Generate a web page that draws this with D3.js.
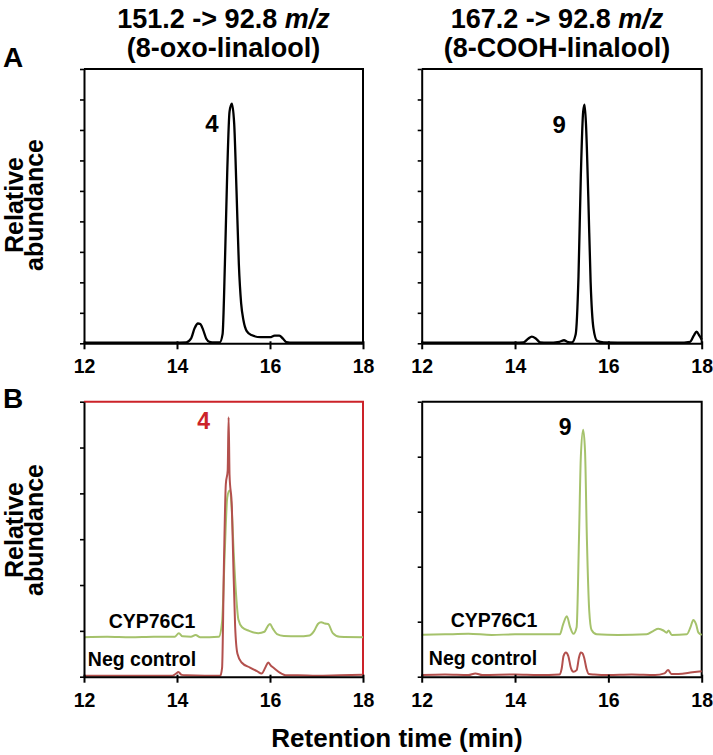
<!DOCTYPE html>
<html><head><meta charset="utf-8">
<script src="https://cdn.jsdelivr.net/npm/d3@7"></script>
<style>
html,body{margin:0;padding:0;background:#fff;}
text{font-family:"Liberation Sans",Arial,Helvetica,sans-serif;font-weight:bold;}
</style></head>
<body>
<script>
// ---------- data ----------
const xTicks = [12, 14, 16, 18];
const yTicksTop = [0,1,2,3,4,5,6,7,8,9];
const yTicksBL = [0,1,2,3,4,5,6];
const yTicksBR = [0,1,2,3,4,5];

// A, left: 151.2 -> 92.8 (8-oxo-linalool standard)
const timeA1 = [12.0,13.0,13.9,14.2,14.3,14.38,14.45,14.5,14.56,14.63,14.7,14.8,14.92,14.98,15.03,15.08,15.13,15.18,15.23,15.28,15.33,15.38,15.43,15.5,15.6,15.8,16.0,16.1,16.2,16.28,16.35,16.5,17.0,18.0];
const absA1  = [0.02,0.02,0.02,0.03,0.15,0.5,0.65,0.63,0.45,0.15,0.05,0.03,0.03,0.3,2.6,5.6,7.6,7.86,7.2,5.0,2.6,1.3,0.75,0.4,0.27,0.2,0.2,0.25,0.25,0.15,0.04,0.02,0.02,0.02];

// A, right: 167.2 -> 92.8 (8-COOH-linalool standard)
const timeA2 = [12.0,13.0,14.0,14.18,14.28,14.36,14.45,14.54,14.7,14.95,15.05,15.12,15.22,15.3,15.36,15.41,15.46,15.49,15.52,15.57,15.62,15.68,15.76,15.9,16.5,17.0,17.5,17.75,17.83,17.89,17.95,18.0];
const absA2  = [0.02,0.02,0.02,0.03,0.15,0.22,0.15,0.03,0.02,0.05,0.1,0.05,0.03,0.3,2.2,5.5,7.6,7.83,7.2,4.8,2.0,0.5,0.08,0.03,0.02,0.02,0.02,0.05,0.25,0.38,0.25,0.12];

// B, left: CYP76C1 and Neg control
const timeB1cyp = [12.0,12.5,13.0,13.5,13.95,14.04,14.12,14.3,14.4,14.5,14.7,14.9,14.97,15.03,15.08,15.13,15.18,15.22,15.27,15.32,15.4,15.55,15.75,15.88,15.95,16.0,16.06,16.15,16.3,16.6,16.85,16.95,17.03,17.1,17.18,17.25,17.35,17.5,18.0];
const absB1cyp  = [0.86,0.87,0.86,0.87,0.87,0.95,0.88,0.87,0.91,0.86,0.86,0.87,1.2,2.8,3.9,4.06,3.6,2.7,1.8,1.25,1.08,1.0,0.95,0.98,1.1,1.15,1.05,0.93,0.89,0.88,0.9,1.0,1.15,1.19,1.16,1.15,0.95,0.87,0.86];
const timeB1neg = [12.0,13.0,13.9,13.98,14.03,14.1,14.2,14.6,14.93,14.97,15.01,15.05,15.09,15.11,15.13,15.18,15.21,15.25,15.3,15.39,15.57,15.72,15.82,15.9,15.96,16.02,16.07,16.21,16.36,16.6,17.0,17.5,18.0];
const absB1neg  = [0.02,0.02,0.02,0.07,0.1,0.04,0.03,0.02,0.02,0.2,2.5,4.2,4.5,5.66,4.4,3.7,2.5,1.1,0.5,0.31,0.2,0.12,0.07,0.2,0.31,0.24,0.2,0.09,0.03,0.03,0.02,0.03,0.04];

// B, right: CYP76C1 and Neg control
const timeB2cyp = [12.0,12.5,13.0,13.5,14.0,14.5,14.96,15.03,15.11,15.18,15.25,15.32,15.37,15.41,15.46,15.5,15.54,15.59,15.64,15.75,16.2,16.82,16.96,17.07,17.18,17.25,17.29,17.36,17.68,17.76,17.82,17.88,17.93,18.0];
const absB2cyp  = [0.76,0.77,0.78,0.76,0.77,0.77,0.77,0.95,1.1,0.9,0.78,0.9,2.5,4.0,4.49,4.1,2.5,1.2,0.85,0.77,0.76,0.77,0.83,0.87,0.84,0.8,0.84,0.76,0.77,0.9,1.03,0.95,0.8,0.76];
const timeB2neg = [12.0,12.5,13.0,13.15,13.3,14.0,14.5,14.95,15.0,15.04,15.09,15.14,15.2,15.25,15.32,15.37,15.41,15.44,15.48,15.53,15.58,15.7,16.0,16.5,17.0,17.2,17.28,17.35,17.5,17.8,18.0];
const absB2neg  = [0.03,0.04,0.03,0.06,0.03,0.04,0.03,0.04,0.15,0.38,0.44,0.38,0.15,0.09,0.12,0.35,0.44,0.43,0.35,0.15,0.05,0.04,0.03,0.04,0.03,0.06,0.12,0.05,0.05,0.08,0.1];

// ---------- layout ----------
const W = 713, H = 755;
const colBlack = "#000", colGreen = "#a5c26b", colRed = "#b3504d", colBox = "#cc2229";

const panels = [
  {x0:84, x1:363, y0:69, y1:343.3, ymax:9, yt:yTicksTop, frame:colBlack,
   series:[{t:timeA1, v:absA1, c:colBlack, w:2.3}],
   peak:{label:"4", t:15.18, v:7.86, dx:-20, dy:28, c:colBlack, size:24}},
  {x0:421.7, x1:701.7, y0:69, y1:343.3, ymax:9, yt:yTicksTop, frame:colBlack,
   series:[{t:timeA2, v:absA2, c:colBlack, w:2.3}],
   peak:{label:"9", t:15.48, v:7.83, dx:-25, dy:28, c:colBlack, size:24}},
  {x0:84, x1:363, y0:401.7, y1:676.7, ymax:6, yt:yTicksBL, frame:colBox,
   series:[{t:timeB1cyp, v:absB1cyp, c:colGreen, w:2}, {t:timeB1neg, v:absB1neg, c:colRed, w:2}],
   peak:{label:"4", t:15.11, v:5.66, dx:-25, dy:12, c:colBox, size:23},
   cyp:{x:152, y:628}, neg:{x:142, y:666}},
  {x0:421.7, x1:701.7, y0:401.7, y1:676.7, ymax:5, yt:yTicksBR, frame:colBlack,
   series:[{t:timeB2cyp, v:absB2cyp, c:colGreen, w:2}, {t:timeB2neg, v:absB2neg, c:colRed, w:2}],
   peak:{label:"9", t:15.46, v:4.49, dx:-18, dy:5, c:colBlack, size:23},
   cyp:{x:494, y:627}, neg:{x:483, y:665}}
];

const svg = d3.select("body").append("svg").attr("width", W).attr("height", H);

panels.forEach(p => {
  const x = d3.scaleLinear().domain([12, 18]).range([p.x0, p.x1]);
  const y = d3.scaleLinear().domain([0, p.ymax]).range([p.y1, p.y0]);
  const g = svg.append("g");

  // frame (top & right)
  g.append("path")
    .attr("d", `M${p.x0},${p.y0}H${p.x1}V${p.y1}`)
    .attr("fill", "none").attr("stroke", p.frame).attr("stroke-width", 2);

  // traces
  const line = d3.line().x(d => x(d[0])).y(d => y(d[1])).curve(d3.curveMonotoneX);
  p.series.forEach(s => {
    const pts = s.t.map((t, i) => [t, s.v[i]]);
    g.append("path").datum(pts).attr("d", line)
      .attr("fill", "none").attr("stroke", s.c).attr("stroke-width", s.w)
      .attr("stroke-linejoin", "round");
  });

  // x axis
  const xa = g.append("g").attr("transform", `translate(0,${p.y1})`)
    .call(d3.axisBottom(x).tickValues(xTicks).tickFormat(d3.format("d"))
      .tickSize(6).tickPadding(10).tickSizeOuter(0));
  xa.select(".domain").attr("stroke", "#000").attr("stroke-width", 2);
  xa.selectAll(".tick line").attr("stroke", "#000").attr("stroke-width", 2).attr("y1", -2);
  xa.selectAll(".tick text").attr("fill", "#000").style("font-size", "19.5px")
    .style("font-family", "'Liberation Sans',Arial,sans-serif").style("font-weight", "bold");

  // y axis
  const ya = g.append("g").attr("transform", `translate(${p.x0},0)`)
    .call(d3.axisLeft(y).tickValues(p.yt).tickSize(4).tickFormat("").tickSizeOuter(0));
  ya.select(".domain").attr("stroke", "#000").attr("stroke-width", 2);
  ya.selectAll(".tick line").attr("stroke", "#000").attr("stroke-width", 1.6);

  // peak label
  g.append("text").attr("x", x(p.peak.t) + p.peak.dx).attr("y", y(p.peak.v) + p.peak.dy)
    .attr("text-anchor", "middle").attr("fill", p.peak.c)
    .style("font-size", p.peak.size + "px").text(p.peak.label);

  if (p.cyp) {
    g.append("text").attr("x", p.cyp.x).attr("y", p.cyp.y).attr("text-anchor", "middle")
      .style("font-size", "19.5px").text("CYP76C1");
    g.append("text").attr("x", p.neg.x).attr("y", p.neg.y).attr("text-anchor", "middle")
      .style("font-size", "19.5px").text("Neg control");
  }
});

// column titles
const titles = [
  {cx:223.5, l1:"151.2 -> 92.8 ", l2:"(8-oxo-linalool)"},
  {cx:557, l1:"167.2 -> 92.8 ", l2:"(8-COOH-linalool)"}
];
titles.forEach(t => {
  const t1 = svg.append("text").attr("x", t.cx).attr("y", 28).attr("text-anchor", "middle")
    .style("font-size", "27px");
  t1.append("tspan").text(t.l1);
  t1.append("tspan").style("font-style", "italic").text("m/z");
  svg.append("text").attr("x", t.cx).attr("y", 57).attr("text-anchor", "middle")
    .style("font-size", "27px").text(t.l2);
});

// panel letters
svg.append("text").attr("x", 3).attr("y", 67).style("font-size", "28px").text("A");
svg.append("text").attr("x", 3).attr("y", 408).style("font-size", "28px").text("B");

// y-axis titles
[[205], [530]].forEach(([cy]) => {
  svg.append("text").attr("transform", `translate(23,${cy}) rotate(-90)`)
    .attr("text-anchor", "middle").style("font-size", "25px").text("Relative");
  svg.append("text").attr("transform", `translate(43,${cy}) rotate(-90)`)
    .attr("text-anchor", "middle").style("font-size", "25px").text("abundance");
});

// x-axis title
svg.append("text").attr("x", 397).attr("y", 747).attr("text-anchor", "middle")
  .style("font-size", "26px").text("Retention time (min)");
</script>
</body></html>
